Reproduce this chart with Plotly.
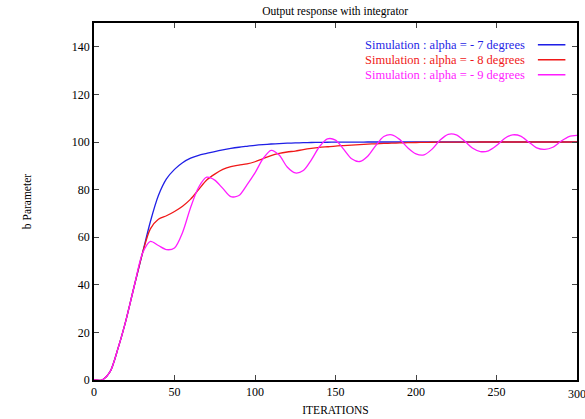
import plotly.graph_objects as go

iterations = list(range(0, 305, 5))

rise = [0, 0, 3.5, 13.5, 25.5, 39.5, 53]

blue_tail = [66.5, 77.5, 84.5, 88.5, 91.3, 93.2, 94.4, 95.2, 96, 96.7, 97.3, 97.8, 98.2, 98.6,
             98.9, 99.15, 99.35, 99.5, 99.62, 99.72, 99.8, 99.86, 99.9, 99.93, 99.95, 99.97,
             99.98, 99.99, 100, 100, 100, 100, 100, 100, 100, 100, 100, 100, 100, 100, 100,
             100, 100, 100, 100, 100, 100, 100, 100, 100, 100, 100, 100, 100]

red_tail = [63.5, 67.5, 69, 70.8, 73, 76, 80, 84, 86.5, 88.5, 89.7, 90.3, 90.8, 91.7,
            93, 94.3, 95.2, 95.8, 96.2, 96.8, 97.3, 97.7, 98, 98.3, 98.5, 98.7, 98.9,
            99.1, 99.25, 99.4, 99.5, 99.6, 99.7, 99.8, 99.85, 99.9, 99.92, 99.94, 99.96,
            99.97, 99.98, 99.99, 100, 100, 100, 100, 100, 100, 100, 100, 100, 100, 100, 100]

magenta_tail = [58.2, 56.5, 54.8, 55.5, 62, 72.5, 81, 85.2, 84, 80.5, 77, 77.5, 82, 87,
                93, 96.5, 94.5, 89.5, 87, 88, 92.5, 98, 101.3, 100.8, 97, 93, 91.8, 94,
                98.5, 102.3, 103, 101, 97.5, 95, 94.6, 97, 100.8, 103.2, 103, 100.5, 97.5,
                96, 96.3, 98.5, 101.5, 103, 102.5, 100, 97.5, 96.9, 97.8, 100.3, 102.3, 102.8]

blue = rise + blue_tail
red = rise + red_tail
magenta = rise + magenta_tail

series_names = ["Simulation : alpha = - 7 degrees",
                "Simulation : alpha = - 8 degrees",
                "Simulation : alpha = - 9 degrees"]
series_colors = ["#1f1fe6", "#f01818", "#ff1cff"]
series_values = [blue, red, magenta]

x_ticks = [0, 50, 100, 150, 200, 250, 300]
y_ticks = [0, 20, 40, 60, 80, 100, 120, 140]

FONT = "Liberation Serif"

fig = go.Figure()
for name, color, vals in zip(series_names, series_colors, series_values):
    fig.add_trace(go.Scatter(x=iterations, y=vals, mode="lines", name=name,
                             line=dict(color=color, width=1.3, shape="spline", smoothing=0.8),
                             showlegend=False))

# legend drawn gnuplot-style: text right-aligned, sample line on the right
legend_rows_y = [0.939, 0.897, 0.855]
for name, color, yy in zip(series_names, series_colors, legend_rows_y):
    fig.add_annotation(xref="paper", yref="paper", x=0.897, y=yy, text=name,
                       showarrow=False, xanchor="right", yanchor="middle",
                       font=dict(family=FONT, size=12.5, color=color))
    fig.add_shape(type="line", xref="paper", yref="paper", x0=0.919, x1=0.976, y0=yy, y1=yy,
                  line=dict(color=color, width=1.5))

# last x tick label, which runs past the page edge (plotly would otherwise drop it)
fig.add_annotation(xref="x", yref="paper", x=x_ticks[-1], y=0, yshift=-5,
                   text=str(x_ticks[-1]), showarrow=False, xanchor="center", yanchor="top",
                   font=dict(family=FONT, size=12, color="black"))

fig.update_layout(
    width=585, height=419,
    margin=dict(l=94, r=8, t=23, b=39, autoexpand=False),
    paper_bgcolor="white", plot_bgcolor="white",
    font=dict(family=FONT, size=12, color="black"),
    title=dict(text="Output response with integrator", x=0.573, xanchor="center",
               y=0.973, yanchor="middle", font=dict(family=FONT, size=11.5)),
)
fig.update_xaxes(range=[0, 300], tickvals=x_ticks, ticks="inside", ticklen=5,
                 showline=True, linecolor="black", linewidth=1.5, mirror="ticks",
                 showgrid=False, zeroline=False, automargin=False,
                 tickfont=dict(family=FONT, size=12),
                 title=dict(text="ITERATIONS", font=dict(family=FONT, size=11.5), standoff=8))
fig.update_yaxes(range=[0, 150], tickvals=y_ticks, ticks="inside", ticklen=5,
                 showline=True, linecolor="black", linewidth=1.5, mirror="ticks",
                 showgrid=False, zeroline=False, automargin=False,
                 tickfont=dict(family=FONT, size=12),
                 title=dict(text="b Parameter", font=dict(family=FONT, size=11.5), standoff=38))

fig.write_html("out.html")
